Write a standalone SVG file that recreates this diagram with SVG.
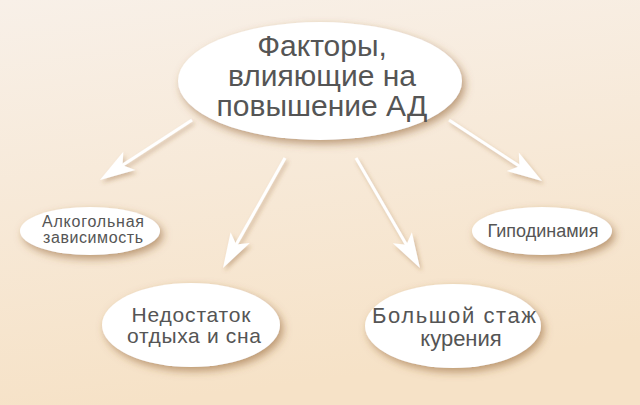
<svg xmlns="http://www.w3.org/2000/svg" width="640" height="405" viewBox="0 0 640 405">
  <defs>
    <linearGradient id="bg" x1="0" y1="0" x2="0.2" y2="1">
      <stop offset="0" stop-color="#f8f0e8"/>
      <stop offset="1" stop-color="#f6e2c7"/>
    </linearGradient>
    <filter id="sh" x="-20%" y="-30%" width="150%" height="170%">
      <feDropShadow dx="3" dy="4" stdDeviation="4" flood-color="#8a5a2a" flood-opacity="0.55"/>
    </filter>
    <filter id="ash" x="-20%" y="-20%" width="150%" height="150%">
      <feDropShadow dx="2" dy="3" stdDeviation="2" flood-color="#8a5a2a" flood-opacity="0.35"/>
    </filter>
    <marker id="ah" viewBox="-16 -12 37 24" markerWidth="37" markerHeight="24" refX="0" refY="0" orient="auto" markerUnits="userSpaceOnUse">
      <path d="M20,0 L-15,-11 L-7,0 L-15,11 Z" fill="#ffffff"/>
    </marker>
  </defs>
  <style>
    .node ellipse { fill: #ffffff; filter: url(#sh); }
    .node text { font-family: "Liberation Sans", Arial, sans-serif; fill: #555555; text-anchor: middle; }
    .conn line { stroke: #ffffff; stroke-width: 3; marker-end: url(#ah); }
  </style>
  <rect width="640" height="405" fill="url(#bg)"/>

  <g id="connectors" class="conn" filter="url(#ash)">
    <line x1="192" y1="120" x2="116.7" y2="169.1"/>
    <line x1="285" y1="158" x2="232.8" y2="250.6"/>
    <line x1="356" y1="158" x2="409.9" y2="250.7"/>
    <line x1="449" y1="120" x2="525.3" y2="170"/>
  </g>

  <g id="main" class="node">
    <ellipse cx="320" cy="81" rx="142" ry="59"/>
    <text font-size="30" x="322" y="56">Факторы,</text>
    <text font-size="30" x="322" y="86">влияющие на</text>
    <text font-size="30" x="322" y="116">повышение АД</text>
  </g>

  <g id="alcohol" class="node">
    <ellipse cx="90" cy="231" rx="70" ry="24"/>
    <text font-size="16" x="93" y="227" textLength="102" lengthAdjust="spacing">Алкогольная</text>
    <text font-size="16" x="93" y="243" textLength="100" lengthAdjust="spacing">зависимость</text>
  </g>

  <g id="hypodynamia" class="node">
    <ellipse cx="542" cy="231" rx="70" ry="24"/>
    <text font-size="18" x="543" y="237">Гиподинамия</text>
  </g>

  <g id="rest" class="node">
    <ellipse cx="191" cy="325" rx="89" ry="42"/>
    <text font-size="21" x="191" y="322" textLength="119" lengthAdjust="spacing">Недостаток</text>
    <text font-size="21" x="194" y="343" textLength="134" lengthAdjust="spacing">отдыха и сна</text>
  </g>

  <g id="smoking" class="node">
    <ellipse cx="453" cy="326" rx="88" ry="42"/>
    <text font-size="22" x="454" y="323" textLength="164" lengthAdjust="spacing">Большой стаж</text>
    <text font-size="22" x="461" y="346">курения</text>
  </g>
</svg>
